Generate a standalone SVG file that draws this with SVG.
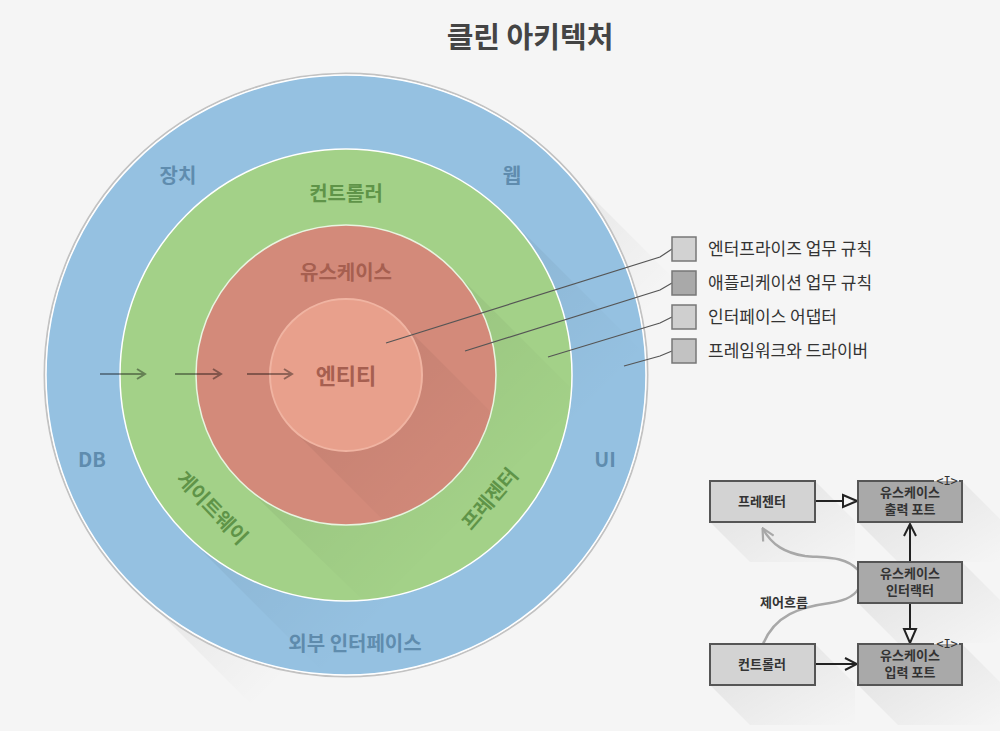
<svg xmlns="http://www.w3.org/2000/svg" width="1000" height="731" viewBox="0 0 1000 731">
<style>
text{font-family:"Noto Sans CJK KR","Noto Sans",sans-serif}
.lb{font-size:20px;font-weight:bold;text-anchor:middle}
.blue{fill:#5f8cae}
.green{fill:#5f9448}
.red{fill:#a65f50}
.leg{font-size:17px;fill:#333}
.legbox{stroke:#777;stroke-width:1.5}
.legline{stroke:#555;stroke-width:1.2;fill:none}
.box{stroke:#555;stroke-width:2}
.bt{font-size:13px;fill:#333;text-anchor:middle;font-weight:bold}
.ar{stroke:#222;stroke-width:2;fill:none}
.ia{stroke:#000;stroke-opacity:0.38;stroke-width:2;fill:none;stroke-linejoin:miter}
.it{font-size:12px;fill:#333;text-anchor:middle;font-family:"DejaVu Sans Mono",monospace}
</style>
<defs>
<linearGradient id="sh1" gradientUnits="userSpaceOnUse" x1="346" y1="375" x2="466" y2="495">
<stop offset="0" stop-color="#000" stop-opacity="0.07"/><stop offset="1" stop-color="#000" stop-opacity="0"/>
</linearGradient>
<linearGradient id="sh2" gradientUnits="userSpaceOnUse" x1="346" y1="375" x2="486" y2="515">
<stop offset="0" stop-color="#000" stop-opacity="0.06"/><stop offset="1" stop-color="#000" stop-opacity="0"/>
</linearGradient>
<linearGradient id="shb" x1="0.3" y1="0.3" x2="1" y2="1">
<stop offset="0" stop-color="#000" stop-opacity="0.06"/><stop offset="1" stop-color="#000" stop-opacity="0"/>
</linearGradient>
<clipPath id="cBlue"><circle cx="346" cy="375" r="300"/></clipPath>
<clipPath id="cGreen"><circle cx="346" cy="375" r="226"/></clipPath>
<clipPath id="cRed"><circle cx="346" cy="375" r="150"/></clipPath>
<marker id="chevk" viewBox="0 0 14 14" refX="13" refY="7" markerWidth="14" markerHeight="14" markerUnits="userSpaceOnUse" orient="auto">
<path d="M1,1 L13,7 L1,13" fill="none" stroke="#222" stroke-width="2"/>
</marker>
<marker id="tri" viewBox="0 0 16 16" refX="15" refY="8" markerWidth="16" markerHeight="16" markerUnits="userSpaceOnUse" orient="auto">
<path d="M1,2 L15,8 L1,14 Z" fill="#f5f5f5" stroke="#222" stroke-width="2"/>
</marker>
<marker id="gray" viewBox="0 0 14 14" refX="12" refY="7" markerWidth="14" markerHeight="14" markerUnits="userSpaceOnUse" orient="auto">
<path d="M1,1 L13,7 L1,13" fill="none" stroke="#a8a8a8" stroke-width="2.2"/>
</marker>
</defs>
<rect width="1000" height="731" fill="#f5f5f5"/>
<text x="530" y="48" style="font-size:29px;font-weight:bold;fill:#444;text-anchor:middle">클린 아키텍처</text>

<g id="outer-layer">
<polygon points="558,163 678,283 254,707 134,587" fill="url(#sh1)"/>
<circle cx="346" cy="375" r="301.5" fill="none" stroke="#c2c2c2" stroke-width="2"/>
<circle cx="346" cy="375" r="300" fill="#95c1e1" stroke="#fff" stroke-width="1.5"/>
<text class="lb blue" x="178" y="183">장치</text>
<text class="lb blue" x="512" y="183">웹</text>
<text class="lb blue" x="92" y="467">DB</text>
<text class="lb blue" x="605" y="467">UI</text>
<text class="lb blue" x="355" y="651">외부 인터페이스</text>
</g>
<g id="adapter-layer">
<polygon points="506,215 646,355 326,675 186,535" fill="url(#sh2)" clip-path="url(#cBlue)"/>
<circle cx="346" cy="375" r="226" fill="#a3d188" stroke="#fff" stroke-width="1.5"/>
<text class="lb green" x="346" y="201">컨트롤러</text>
<text class="lb green" transform="translate(212,508) rotate(46)" x="0" y="7">게이트웨이</text>
<text class="lb green" transform="translate(490,499) rotate(-49)" x="0" y="7">프레젠터</text>
</g>
<g id="usecase-layer">
<polygon points="452,269 582,399 372,609 240,481" fill="url(#sh2)" clip-path="url(#cGreen)"/>
<circle cx="346" cy="375" r="150" fill="#d38a7a" stroke="#e8f5e0" stroke-width="1.5"/>
<text class="lb red" x="346" y="280">유스케이스</text>
</g>
<g id="entity-layer">
<polygon points="400,321 520,441 412,549 292,429" fill="url(#sh2)" clip-path="url(#cRed)"/>
<circle cx="346" cy="375" r="76" fill="#e8a08c" stroke="#f0b4a2" stroke-width="2"/>
<text class="lb red" x="346" y="384" style="font-size:22px">엔티티</text>
</g>

<g id="box-shadows">
<polygon points="815,481 855,521 855,562 750,562 710,522 815,522" fill="url(#shb)"/>
<polygon points="962,481 1000,519 1000,562 898,562 858,522 962,522" fill="url(#shb)"/>
<polygon points="962,562 1000,600 1000,643 898,643 858,603 962,603" fill="url(#shb)"/>
<polygon points="815,644 855,684 855,725 750,725 710,685 815,685" fill="url(#shb)"/>
<polygon points="962,644 1000,682 1000,725 898,725 858,685 962,685" fill="url(#shb)"/>
</g>

<g id="connectors">
<path class="ia" d="M100,374 H145 M137,369 L145,374 L137,379"/>
<path class="ia" d="M175,374 H221 M213,369 L221,374 L213,379"/>
<path class="ia" d="M247,374 H292 M284,369 L292,374 L284,379"/>
<polyline class="legline" points="386,343 660,257 672,249"/>
<polyline class="legline" points="465,351 660,290 672,283"/>
<polyline class="legline" points="548,357 660,323 672,317"/>
<polyline class="legline" points="624,366 660,356 672,351"/>
<path d="M763,644 C775,615 800,607 830,603 C850,600 858,592 860,585" fill="none" stroke="#a8a8a8" stroke-width="2.5"/>
<path d="M858,570 C845,556 825,558 805,556 C785,553 772,545 763,529" fill="none" stroke="#a8a8a8" stroke-width="2.5" marker-end="url(#gray)"/>
<line class="ar" x1="816" y1="501" x2="857" y2="501" marker-end="url(#tri)"/>
<line class="ar" x1="910" y1="562" x2="910" y2="524" marker-end="url(#chevk)"/>
<line class="ar" x1="910" y1="604" x2="910" y2="643" marker-end="url(#tri)"/>
<line class="ar" x1="816" y1="664" x2="857" y2="664" marker-end="url(#chevk)"/>
</g>

<g id="legend">
<g id="leg-entity"><rect class="legbox" x="672" y="237" width="24" height="24" fill="#d2d2d2"/><text class="leg" x="708" y="255">엔터프라이즈 업무 규칙</text></g>
<g id="leg-usecase"><rect class="legbox" x="672" y="271" width="24" height="24" fill="#a9a9a9"/><text class="leg" x="708" y="289">애플리케이션 업무 규칙</text></g>
<g id="leg-adapter"><rect class="legbox" x="672" y="305" width="24" height="24" fill="#cfcfcf"/><text class="leg" x="708" y="323">인터페이스 어댑터</text></g>
<g id="leg-framework"><rect class="legbox" x="672" y="339" width="24" height="24" fill="#c2c2c2"/><text class="leg" x="708" y="357">프레임워크와 드라이버</text></g>
</g>

<g id="presenter">
<rect class="box" x="710" y="481" width="105" height="41" fill="#d3d3d3"/>
<text class="bt" x="762" y="506">프레젠터</text>
</g>
<g id="output-port">
<rect x="858" y="481" width="104" height="41" fill="#a9a9a9"/>
<path d="M934,481 L858,481 L858,522 L962,522 L962,481 L959,481" class="box" fill="none"/>
<text class="it" x="947" y="485">&lt;I&gt;</text>
<text class="bt" x="910" y="497">유스케이스</text>
<text class="bt" x="910" y="514">출력 포트</text>
</g>
<g id="interactor">
<rect class="box" x="858" y="562" width="104" height="41" fill="#a9a9a9"/>
<text class="bt" x="910" y="578">유스케이스</text>
<text class="bt" x="910" y="595">인터랙터</text>
</g>
<g id="controller">
<rect class="box" x="710" y="644" width="105" height="41" fill="#d3d3d3"/>
<text class="bt" x="762" y="669">컨트롤러</text>
</g>
<g id="input-port">
<rect x="858" y="644" width="104" height="41" fill="#a9a9a9"/>
<path d="M934,644 L858,644 L858,685 L962,685 L962,644 L959,644" class="box" fill="none"/>
<text class="it" x="947" y="648">&lt;I&gt;</text>
<text class="bt" x="910" y="660">유스케이스</text>
<text class="bt" x="910" y="677">입력 포트</text>
</g>
<text x="784" y="607" style="font-size:13px;fill:#333;text-anchor:middle;font-weight:bold">제어흐름</text>
</svg>
